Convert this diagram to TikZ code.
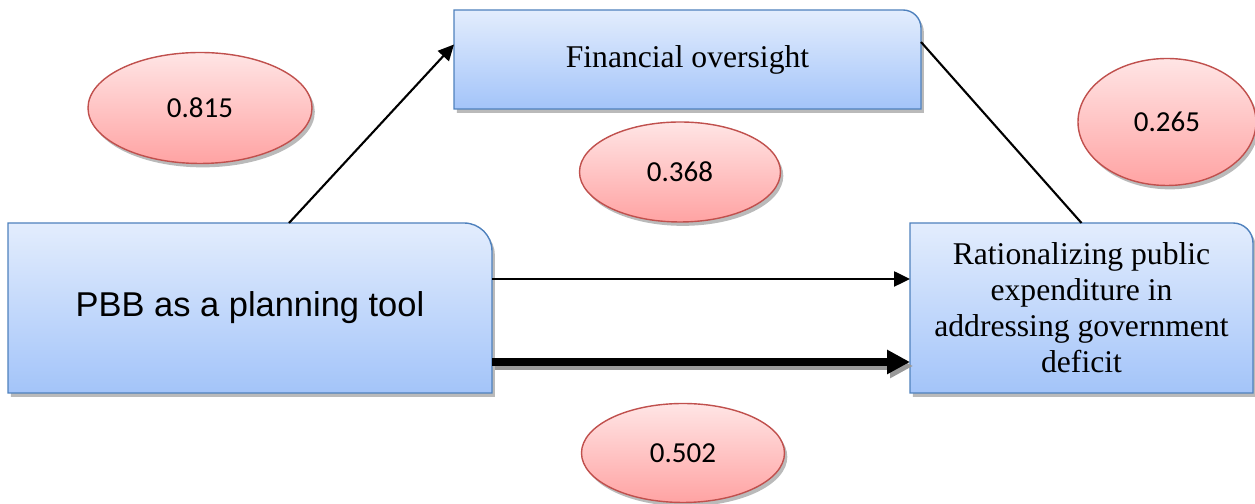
\documentclass[tikz,border=0pt]{standalone}
\usepackage{fontspec}
\setmainfont{Liberation Serif}
\newfontfamily\arialfont{Liberation Sans}
\newfontfamily\calibrifont{Carlito}
\usetikzlibrary{shapes.geometric,arrows.meta,shadows,backgrounds,calc}

\definecolor{boxtop}{HTML}{E3EDFD}
\definecolor{boxbottom}{HTML}{A3C4F9}
\definecolor{boxline}{HTML}{4F81BD}
\definecolor{ovaltop}{HTML}{FFE5E5}
\definecolor{ovalbottom}{HTML}{FFA3A3}
\definecolor{ovalline}{HTML}{C0504D}

\begin{document}
\begin{tikzpicture}[boxtext/.style={inner sep=0pt,outer sep=0pt,align=center,font=\fontsize{18}{20.5}\selectfont},
  softshadow/.style={drop shadow={shadow xshift=1.6pt,shadow yshift=-2.2pt,fill=black!45,opacity=0.6}},
  boxshape/.style={draw=boxline,line width=0.8pt,top color=boxtop,bottom color=boxbottom,softshadow},
  oval/.style={ellipse,draw=ovalline,line width=0.8pt,inner sep=0pt,top color=ovaltop,bottom color=ovalbottom,softshadow,font=\calibrifont\fontsize{16.5}{19}\selectfont},
  link/.style={line width=1.2pt,-{Triangle[length=9pt,width=8.5pt]}}]

\useasboundingbox (0,0) rectangle (25.1,10.08);

% Boxes
\node (pbb) at (5,3.92) [boxtext,minimum width=9.68cm,minimum height=3.4cm,font=\arialfont\fontsize{19.6}{22}\selectfont] {PBB as a planning tool};
\node (fin) at (13.75,8.89) [boxtext,minimum width=9.34cm,minimum height=1.98cm] {Financial oversight};
\node (rat) at (21.63,3.92) [boxtext,minimum width=6.86cm,minimum height=3.4cm] {Rationalizing public\\expenditure in\\addressing government\\deficit};

\begin{pgfonlayer}{background}
\path[boxshape] (pbb.south west) -- (pbb.north west) -- ($(pbb.north east)+(-.56,0)$)
  arc[start angle=90,end angle=0,radius=.56] -- (pbb.south east) -- cycle;
\path[boxshape] (fin.south west) -- (fin.north west) -- ($(fin.north east)+(-.36,0)$)
  arc[start angle=90,end angle=0,radius=.36] -- (fin.south east) -- cycle;
\path[boxshape] (rat.south west) -- (rat.north west) -- ($(rat.north east)+(-.4,0)$)
  arc[start angle=90,end angle=0,radius=.4] -- (rat.south east) -- cycle;
\end{pgfonlayer}

% Coefficients
\node (c815) at (4,7.92) [oval,minimum width=4.48cm,minimum height=2.22cm] {0.815};
\node (c368) at (13.6,6.64) [oval,minimum width=4.02cm,minimum height=2cm] {0.368};
\node (c265) at (23.34,7.64) [oval,minimum width=3.56cm,minimum height=2.54cm] {0.265};
\node (c502) at (13.66,1.02) [oval,minimum width=4.06cm,minimum height=1.98cm] {0.502};

% Paths
\draw[link] ($(pbb.north)+(.78,0)$) -- ($(fin.west)+(0,.3)$);
\draw[line width=1.2pt] ($(fin.east)+(0,.35)$) -- (rat.north);
\draw[link] ($(pbb.east)+(0,.58)$) -- ($(rat.west)+(0,.58)$);
\draw[line width=4.6pt,black!40,-{Triangle[length=13pt,width=13pt]}] ($(pbb.east)+(.06,-1.16)$) -- ($(rat.west)+(.06,-1.16)$);
\draw[line width=4.6pt,-{Triangle[length=13pt,width=13pt]}] ($(pbb.east)+(0,-1.08)$) -- ($(rat.west)+(0,-1.08)$);

\end{tikzpicture}
\end{document}
